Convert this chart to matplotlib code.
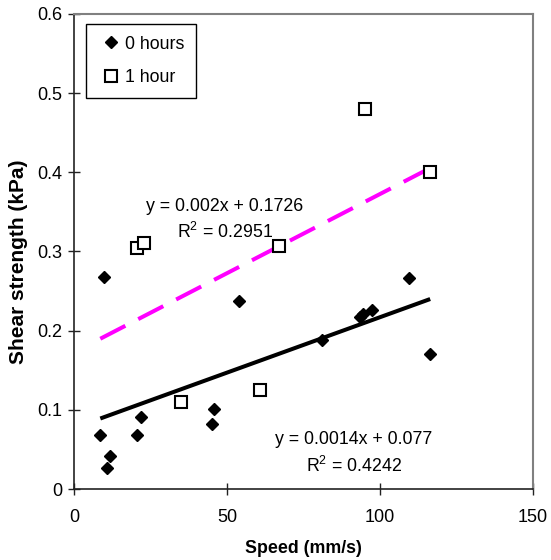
import matplotlib.pyplot as plt
import numpy as np

plt.rcParams['font.family'] = ['Liberation Sans', 'DejaVu Sans']
plt.rcParams['mathtext.fontset'] = 'custom'
plt.rcParams['mathtext.rm'] = 'Liberation Sans'
plt.rcParams['mathtext.default'] = 'regular'

# 0 hours series
speed_0h = [9.8, 8.6, 11.7, 10.9, 21.8, 20.7, 45.7, 45.0, 53.9,
            81.1, 93.4, 94.5, 97.3, 109.4, 116.4]
shear_0h = [0.268, 0.068, 0.042, 0.027, 0.091, 0.068, 0.101, 0.082, 0.238,
            0.188, 0.217, 0.221, 0.226, 0.266, 0.170]

# 1 hour series
speed_1h = [20.7, 23.0, 35.0, 60.9, 67.1, 95.1, 116.2]
shear_1h = [0.304, 0.311, 0.110, 0.125, 0.307, 0.480, 0.401]

# trendline coefficients (slope, intercept) as printed on the chart
fit_0h = (0.0014, 0.077)
fit_1h = (0.002, 0.1726)
r2_0h = 0.4242
r2_1h = 0.2951

FS = 12.8


def main():
    fig = plt.figure(figsize=(5.51, 5.60), dpi=100)
    ax = fig.add_axes([74 / 551, 1 - 489 / 560, 459 / 551, 475 / 560])

    xs = np.array([min(speed_0h), max(speed_0h)])
    ax.plot(xs, fit_0h[0] * xs + fit_0h[1], color='black', lw=2.9,
            solid_capstyle='butt', zorder=2)
    ax.plot(xs, fit_1h[0] * xs + fit_1h[1], color='#FF00FF', lw=2.9,
            dashes=(7, 3.6), dash_capstyle='butt', zorder=2)

    ax.plot(speed_0h, shear_0h, linestyle='none', marker='D', ms=6.4,
            color='black', label='0 hours', zorder=3)
    ax.plot(speed_1h, shear_1h, linestyle='none', marker='s', ms=8,
            mfc='white', mec='black', mew=1.5, label='1 hour', zorder=3)

    ax.text(0.329, 0.594, 'y = %gx + %g' % fit_1h, transform=ax.transAxes,
            ha='center', va='center', fontsize=FS)
    ax.text(0.329, 0.541, 'R$^2$ = %.4f' % r2_1h, transform=ax.transAxes,
            ha='center', va='center', fontsize=FS)
    ax.text(0.609, 0.105, 'y = %gx + %g' % fit_0h, transform=ax.transAxes,
            ha='center', va='center', fontsize=FS)
    ax.text(0.609, 0.048, 'R$^2$ = %.4f' % r2_0h, transform=ax.transAxes,
            ha='center', va='center', fontsize=FS)

    ax.set_xlim(0, 150)
    ax.set_ylim(0, 0.6)
    ax.set_xticks([0, 50, 100, 150])
    ax.set_yticks(np.arange(0, 0.61, 0.1))
    ax.set_yticklabels(['0', '0.1', '0.2', '0.3', '0.4', '0.5', '0.6'])
    ax.tick_params(axis='both', direction='inout', length=8.5, width=1,
                   color='#222222', labelsize=13)
    ax.tick_params(axis='x', pad=10)
    ax.tick_params(axis='y', pad=4)

    for s in ['left', 'bottom']:
        ax.spines[s].set_color('#222222')
        ax.spines[s].set_linewidth(1.2)
    for s in ['top', 'right']:
        ax.spines[s].set_color('#808080')
        ax.spines[s].set_linewidth(1.5)

    ax.set_xlabel('Speed (mm/s)', fontsize=FS, fontweight='bold', labelpad=10)
    ax.set_ylabel('Shear strength (kPa)', fontsize=15, fontweight='bold')
    ax.yaxis.set_label_coords(-0.100, 0.479)

    leg = ax.legend(loc='upper left', bbox_to_anchor=(0.026, 0.979),
                    fancybox=False, edgecolor='black', framealpha=1,
                    handlelength=1.5, handletextpad=0.05, labelspacing=0.95,
                    borderpad=0.65, borderaxespad=0, fontsize=FS)
    leg.get_frame().set_linewidth(1.0)

    fig.savefig('out.png', dpi=100)


if __name__ == '__main__':
    main()
